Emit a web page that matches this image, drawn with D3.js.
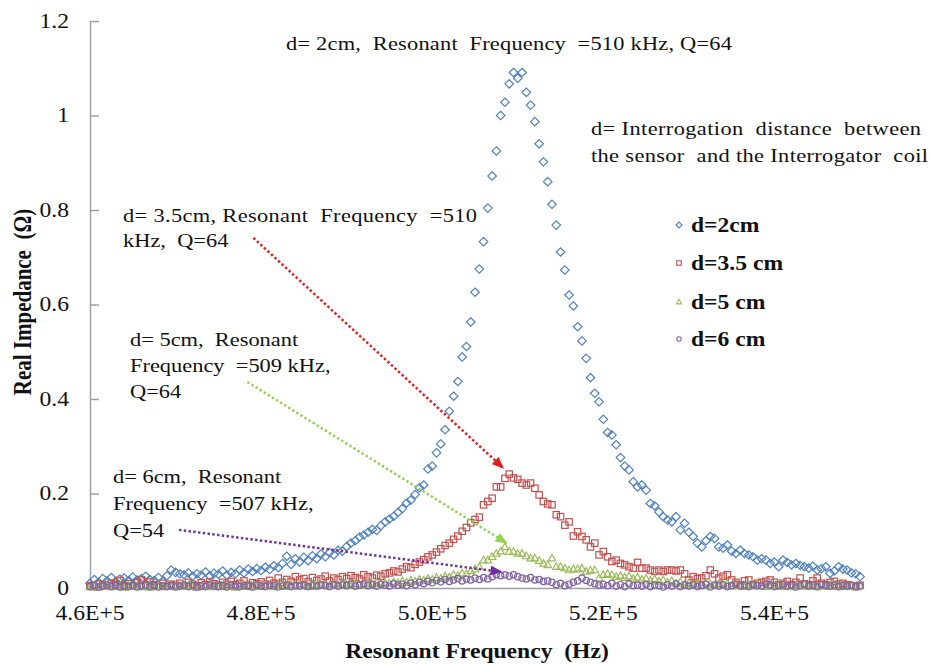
<!DOCTYPE html>
<html>
<head>
<meta charset="utf-8">
<script src="https://cdn.jsdelivr.net/npm/d3@7"></script>
<style>
  html, body { margin: 0; padding: 0; background: #fff; }
  svg { display: block; }
  text { font-family: "Liberation Serif", "Times New Roman", serif; fill: #111; white-space: pre; }
</style>
</head>
<body>
<svg id="chart" width="932" height="664"></svg>
<script>
// sweep frequencies (kHz), one reading every 0.5 kHz
const FREQ_KHZ = [
  460, 460.5, 461, 461.5, 462, 462.5, 463, 463.5, 464, 464.5,
  465, 465.5, 466, 466.5, 467, 467.5, 468, 468.5, 469, 469.5,
  470, 470.5, 471, 471.5, 472, 472.5, 473, 473.5, 474, 474.5,
  475, 475.5, 476, 476.5, 477, 477.5, 478, 478.5, 479, 479.5,
  480, 480.5, 481, 481.5, 482, 482.5, 483, 483.5, 484, 484.5,
  485, 485.5, 486, 486.5, 487, 487.5, 488, 488.5, 489, 489.5,
  490, 490.5, 491, 491.5, 492, 492.5, 493, 493.5, 494, 494.5,
  495, 495.5, 496, 496.5, 497, 497.5, 498, 498.5, 499, 499.5,
  500, 500.5, 501, 501.5, 502, 502.5, 503, 503.5, 504, 504.5,
  505, 505.5, 506, 506.5, 507, 507.5, 508, 508.5, 509, 509.5,
  510, 510.5, 511, 511.5, 512, 512.5, 513, 513.5, 514, 514.5,
  515, 515.5, 516, 516.5, 517, 517.5, 518, 518.5, 519, 519.5,
  520, 520.5, 521, 521.5, 522, 522.5, 523, 523.5, 524, 524.5,
  525, 525.5, 526, 526.5, 527, 527.5, 528, 528.5, 529, 529.5,
  530, 530.5, 531, 531.5, 532, 532.5, 533, 533.5, 534, 534.5,
  535, 535.5, 536, 536.5, 537, 537.5, 538, 538.5, 539, 539.5,
  540, 540.5, 541, 541.5, 542, 542.5, 543, 543.5, 544, 544.5,
  545, 545.5, 546, 546.5, 547, 547.5, 548, 548.5, 549, 549.5,
  550
];

// real impedance (ohm), d = 2 cm
const D2CM = [
  0.010, 0.018, 0.012, 0.020, 0.015, 0.022, 0.014, 0.019, 0.021, 0.016,
  0.023, 0.017, 0.020, 0.025, 0.018, 0.016, 0.022, 0.014, 0.026, 0.038,
  0.033, 0.030, 0.028, 0.032, 0.025, 0.030, 0.027, 0.034, 0.026, 0.031,
  0.029, 0.036, 0.027, 0.033, 0.030, 0.038, 0.032, 0.040, 0.035, 0.041,
  0.037, 0.044, 0.039, 0.047, 0.043, 0.052, 0.067, 0.050, 0.062, 0.055,
  0.065, 0.058, 0.068, 0.062, 0.072, 0.066, 0.075, 0.070, 0.080, 0.078,
  0.088, 0.095, 0.100, 0.108, 0.112, 0.118, 0.124, 0.122, 0.132, 0.140,
  0.146, 0.152, 0.160, 0.168, 0.180, 0.186, 0.198, 0.212, 0.218, 0.252,
  0.258, 0.286, 0.305, 0.335, 0.374, 0.406, 0.437, 0.489, 0.511, 0.563,
  0.626, 0.675, 0.733, 0.804, 0.872, 0.925, 1.000, 1.028, 1.067, 1.091,
  1.079, 1.091, 1.049, 1.022, 0.987, 0.940, 0.902, 0.860, 0.812, 0.768,
  0.711, 0.673, 0.620, 0.597, 0.553, 0.523, 0.486, 0.445, 0.412, 0.394,
  0.357, 0.329, 0.324, 0.303, 0.276, 0.258, 0.250, 0.225, 0.214, 0.218,
  0.207, 0.179, 0.174, 0.161, 0.151, 0.144, 0.140, 0.151, 0.123, 0.137,
  0.118, 0.109, 0.095, 0.087, 0.100, 0.109, 0.105, 0.087, 0.084, 0.091,
  0.078, 0.073, 0.080, 0.073, 0.070, 0.066, 0.059, 0.062, 0.059, 0.052,
  0.055, 0.045, 0.059, 0.054, 0.049, 0.052, 0.048, 0.045, 0.042, 0.046,
  0.038, 0.041, 0.045, 0.031, 0.036, 0.045, 0.040, 0.038, 0.032, 0.030,
  0.024
];

// d = 3.5 cm
const D35CM = [
  0.005, 0.003, 0.008, 0.006, 0.004, 0.010, 0.007, 0.016, 0.005, 0.009,
  0.004, 0.011, 0.017, 0.006, 0.013, 0.007, 0.005, 0.010, 0.004, 0.008,
  0.006, 0.010, 0.004, 0.012, 0.008, 0.005, 0.011, 0.007, 0.013, 0.009,
  0.006, 0.012, 0.008, 0.014, 0.007, 0.010, 0.015, 0.006, 0.011, 0.009,
  0.013, 0.008, 0.016, 0.010, 0.021, 0.012, 0.018, 0.014, 0.024, 0.017,
  0.020, 0.013, 0.022, 0.016, 0.019, 0.025, 0.015, 0.021, 0.018, 0.024,
  0.020, 0.026, 0.022, 0.019, 0.028, 0.024, 0.021, 0.027, 0.025, 0.030,
  0.032, 0.036, 0.034, 0.040, 0.045, 0.043, 0.050, 0.055, 0.060, 0.066,
  0.070, 0.076, 0.083, 0.090, 0.095, 0.103, 0.110, 0.120, 0.128, 0.138,
  0.145, 0.150, 0.176, 0.183, 0.190, 0.214, 0.214, 0.232, 0.241, 0.233,
  0.230, 0.222, 0.218, 0.222, 0.211, 0.197, 0.183, 0.178, 0.176, 0.155,
  0.151, 0.133, 0.140, 0.110, 0.119, 0.109, 0.102, 0.087, 0.095, 0.070,
  0.077, 0.066, 0.056, 0.059, 0.052, 0.049, 0.045, 0.042, 0.054, 0.042,
  0.042, 0.038, 0.035, 0.038, 0.035, 0.038, 0.038, 0.036, 0.038, 0.030,
  0.017, 0.024, 0.020, 0.021, 0.026, 0.038, 0.030, 0.021, 0.025, 0.028,
  0.017, 0.012, 0.007, 0.015, 0.017, 0.007, 0.010, 0.012, 0.014, 0.017,
  0.012, 0.007, 0.010, 0.014, 0.007, 0.012, 0.021, 0.009, 0.007, 0.015,
  0.021, 0.010, 0.007, 0.012, 0.014, 0.008, 0.010, 0.007, 0.004, 0.003,
  0.006
];

// d = 5 cm
const D5CM = [
  0.002, 0.004, 0.001, 0.003, 0.005, 0.002, 0.004, 0.003, 0.001, 0.004,
  0.003, 0.005, 0.002, 0.004, 0.001, 0.003, 0.005, 0.002, 0.004, 0.003,
  0.002, 0.004, 0.003, 0.005, 0.002, 0.001, 0.004, 0.003, 0.005, 0.002,
  0.004, 0.002, 0.005, 0.003, 0.001, 0.004, 0.006, 0.003, 0.002, 0.005,
  0.003, 0.006, 0.004, 0.002, 0.005, 0.007, 0.003, 0.006, 0.004, 0.008,
  0.005, 0.003, 0.007, 0.004, 0.006, 0.008, 0.005, 0.009, 0.006, 0.010,
  0.007, 0.005, 0.009, 0.008, 0.006, 0.010, 0.008, 0.012, 0.009, 0.011,
  0.010, 0.013, 0.011, 0.015, 0.012, 0.016, 0.014, 0.018, 0.016, 0.020,
  0.018, 0.022, 0.020, 0.025, 0.023, 0.028, 0.026, 0.031, 0.030, 0.036,
  0.040, 0.045, 0.059, 0.059, 0.066, 0.073, 0.078, 0.087, 0.077, 0.077,
  0.073, 0.073, 0.068, 0.063, 0.063, 0.058, 0.052, 0.049, 0.063, 0.045,
  0.045, 0.042, 0.038, 0.040, 0.040, 0.042, 0.035, 0.037, 0.038, 0.021,
  0.028, 0.030, 0.028, 0.024, 0.026, 0.022, 0.025, 0.020, 0.023, 0.018,
  0.020, 0.016, 0.019, 0.014, 0.017, 0.012, 0.015, 0.010, 0.013, 0.008,
  0.011, 0.007, 0.010, 0.006, 0.012, 0.008, 0.005, 0.009, 0.006, 0.010,
  0.004, 0.008, 0.005, 0.003, 0.007, 0.004, 0.009, 0.005, 0.003, 0.006,
  0.004, 0.007, 0.003, 0.005, 0.002, 0.006, 0.004, 0.008, 0.003, 0.005,
  0.002, 0.006, 0.004, 0.003, 0.005, 0.002, 0.004, 0.003, 0.005, 0.002,
  0.004
];

// d = 6 cm
const D6CM = [
  0.003, 0.005, 0.002, 0.004, 0.006, 0.003, 0.005, 0.002, 0.004, 0.003,
  0.005, 0.002, 0.004, 0.006, 0.003, 0.005, 0.002, 0.004, 0.003, 0.005,
  0.002, 0.004, 0.006, 0.003, 0.005, 0.002, 0.004, 0.003, 0.006, 0.004,
  0.003, 0.005, 0.002, 0.006, 0.004, 0.003, 0.005, 0.004, 0.002, 0.006,
  0.004, 0.003, 0.006, 0.005, 0.002, 0.004, 0.006, 0.003, 0.005, 0.004,
  0.006, 0.003, 0.005, 0.004, 0.007, 0.005, 0.003, 0.006, 0.004, 0.007,
  0.005, 0.008, 0.004, 0.006, 0.009, 0.005, 0.007, 0.004, 0.008, 0.006,
  0.004, 0.009, 0.006, 0.008, 0.005, 0.010, 0.007, 0.012, 0.009, 0.014,
  0.011, 0.016, 0.013, 0.018, 0.014, 0.017, 0.020, 0.015, 0.019, 0.017,
  0.021, 0.018, 0.022, 0.019, 0.024, 0.028, 0.026, 0.028, 0.025, 0.028,
  0.024, 0.021, 0.019, 0.022, 0.017, 0.018, 0.014, 0.015, 0.012, 0.007,
  0.010, 0.005, 0.008, 0.012, 0.015, 0.021, 0.016, 0.012, 0.009, 0.006,
  0.008, 0.005, 0.010, 0.004, 0.007, 0.003, 0.009, 0.005, 0.006, 0.004,
  0.008, 0.003, 0.006, 0.005, 0.002, 0.007, 0.004, 0.009, 0.003, 0.006,
  0.004, 0.007, 0.003, 0.005, 0.008, 0.002, 0.006, 0.004, 0.007, 0.003,
  0.005, 0.008, 0.004, 0.006, 0.003, 0.007, 0.005, 0.004, 0.009, 0.006,
  0.003, 0.005, 0.007, 0.004, 0.006, 0.002, 0.005, 0.008, 0.004, 0.006,
  0.003, 0.007, 0.005, 0.004, 0.006, 0.003, 0.005, 0.004, 0.006, 0.003,
  0.004
];

const SERIES_NAMES = ["d=2cm", "d=3.5 cm", "d=5 cm", "d=6 cm"];

const X_TICKS = [460000, 480000, 500000, 520000, 540000];
const X_TICK_LABELS = ["4.6E+5", "4.8E+5", "5.0E+5", "5.2E+5", "5.4E+5"];
const Y_TICKS = [0, 0.2, 0.4, 0.6, 0.8, 1, 1.2];
const Y_TICK_LABELS = ["0", "0.2", "0.4", "0.6", "0.8", "1", "1.2"];

// the original picture is a bit wider than tall, text looks stretched sideways
const SX = 1.18;

const svg = d3.select("#chart");
const plotLeft = 90, plotRight = 860, plotTop = 21, plotBottom = 588;

const xScale = d3.scaleLinear().domain([460000, 550000]).range([plotLeft, plotRight]);
const yScale = d3.scaleLinear().domain([0, 1.2]).range([plotBottom, plotTop]);

function stretched(g, x, y, str, width) {
  const t = g.append("text")
    .attr("transform", `translate(${x},${y}) scale(${SX},1)`)
    .text(str);
  if (width) t.attr("textLength", width / SX).attr("lengthAdjust", "spacing");
  return t;
}

// axes
const axisColor = "#a0a0a0";

const yAxis = svg.append("g")
  .attr("transform", `translate(${plotLeft},0)`)
  .call(d3.axisLeft(yScale).tickValues(Y_TICKS).tickSizeInner(-9).tickSizeOuter(0).tickFormat(""));
yAxis.selectAll("path, line").attr("stroke", axisColor).attr("stroke-width", 1.5);

const xAxis = svg.append("g")
  .attr("transform", `translate(0,${plotBottom})`)
  .call(d3.axisBottom(xScale).tickValues(X_TICKS).tickSize(0).tickFormat(""));
xAxis.selectAll("path, line").attr("stroke", axisColor).attr("stroke-width", 1.5);

// tick labels
const tickG = svg.append("g").style("font-size", "20px");
Y_TICKS.forEach((t, i) => {
  stretched(tickG, plotLeft - 21, yScale(t) + 6.5, Y_TICK_LABELS[i]).attr("text-anchor", "end");
});
X_TICKS.forEach((t, i) => {
  stretched(tickG, xScale(t), plotBottom + 32, X_TICK_LABELS[i]).attr("text-anchor", "middle");
});

// axis titles
svg.append("text")
  .attr("transform", `translate(${(plotLeft + plotRight) / 2 + 2},658) scale(${SX},1)`)
  .attr("text-anchor", "middle")
  .style("font-size", "20px").style("font-weight", "bold")
  .text("Resonant Frequency  (Hz)");

svg.append("text")
  .attr("transform", `translate(31,302) scale(${SX},1) rotate(-90)`)
  .attr("text-anchor", "middle")
  .style("font-size", "21px").style("font-weight", "bold")
  .text("Real Impedance  (\u03a9)");

// marker shapes
const SHAPES = {
  diamond: (g, s) => g.append("path").attr("d", `M0,${-4.2 * s}L${4.3 * s},0L0,${4.2 * s}L${-4.3 * s},0Z`),
  square: (g, s) => g.append("rect").attr("x", -3.2 * s).attr("y", -3.2 * s).attr("width", 6.4 * s).attr("height", 6.4 * s),
  triangle: (g, s) => g.append("path").attr("d", `M0,${-3.8 * s}L${3.7 * s},${2.7 * s}L${-3.7 * s},${2.7 * s}Z`),
  circle: (g, s) => g.append("circle").attr("r", 3.2 * s)
};

const series = [
  { name: SERIES_NAMES[0], values: D2CM, color: "#4F81BD", shape: "diamond" },
  { name: SERIES_NAMES[1], values: D35CM, color: "#C0504D", shape: "square" },
  { name: SERIES_NAMES[2], values: D5CM, color: "#9BBB59", shape: "triangle" },
  { name: SERIES_NAMES[3], values: D6CM, color: "#8064A2", shape: "circle" }
];

series.forEach(s => {
  const pts = FREQ_KHZ.map((f, i) => ({ f: f * 1000, v: s.values[i] }));
  const g = svg.append("g")
    .attr("fill", "none")
    .attr("stroke", s.color)
    .attr("stroke-width", 1.2);
  g.selectAll("g.pt")
    .data(pts)
    .enter()
    .append("g")
    .attr("class", "pt")
    .attr("transform", d => `translate(${xScale(d.f)},${yScale(d.v)})`)
    .each(function() { SHAPES[s.shape](d3.select(this), 1); });
});

// legend
const legendY = [225, 263, 302, 339];
const legend = svg.append("g");
series.forEach((s, i) => {
  const m = legend.append("g")
    .attr("transform", `translate(679,${legendY[i]})`)
    .attr("fill", "none").attr("stroke", s.color).attr("stroke-width", 1.1);
  SHAPES[s.shape](m, 0.7);
  stretched(legend, 691, legendY[i] + 7, s.name)
    .style("font-size", "20px").style("font-weight", "bold");
});

// annotations (widths given where the original text box justifies the line)
const notesG = svg.append("g").style("font-size", "19px");
const NOTES = [
  { x: 286, y: 50, lines: ["d= 2cm,  Resonant  Frequency  =510 kHz, Q=64"], widths: [446] },
  { x: 591, y: 135, lines: ["d= Interrogation  distance  between", "the sensor  and the Interrogator  coil"], gap: 27, widths: [330, 337] },
  { x: 123, y: 222, lines: ["d= 3.5cm, Resonant  Frequency  =510", "kHz,  Q=64"], gap: 25, widths: [354] },
  { x: 130, y: 346, lines: ["d= 5cm,  Resonant", "Frequency  =509 kHz,", "Q=64"], gap: 26 },
  { x: 113, y: 483, lines: ["d= 6cm,  Resonant", "Frequency  =507 kHz,", "Q=54"], gap: 27 }
];
NOTES.forEach(n => {
  n.lines.forEach((l, i) => stretched(notesG, n.x, n.y + i * (n.gap || 0), l, n.widths && n.widths[i]));
});

// dotted arrows pointing at the peaks (frequency in kHz, impedance in ohm)
const ARROWS = [
  { from: [479.1, 0.741], to: [508.3, 0.254], color: "#E02020" },
  { from: [478.4, 0.436], to: [508.7, 0.095], color: "#92D050" },
  { from: [470.4, 0.123], to: [508.1, 0.034], color: "#7030A0" }
];
const defs = svg.append("defs");
ARROWS.forEach((a, i) => {
  defs.append("marker")
    .attr("id", "head" + i)
    .attr("markerUnits", "userSpaceOnUse")
    .attr("markerWidth", 12).attr("markerHeight", 10)
    .attr("refX", 11).attr("refY", 5)
    .attr("orient", "auto")
    .append("path")
    .attr("d", "M0,0L12,5L0,10Z")
    .attr("fill", a.color);
  svg.append("line")
    .attr("x1", xScale(a.from[0] * 1000)).attr("y1", yScale(a.from[1]))
    .attr("x2", xScale(a.to[0] * 1000)).attr("y2", yScale(a.to[1]))
    .attr("stroke", a.color)
    .attr("stroke-width", 2.5)
    .attr("stroke-dasharray", "2.4,2.4")
    .attr("marker-end", `url(#head${i})`);
});
</script>
</body>
</html>
